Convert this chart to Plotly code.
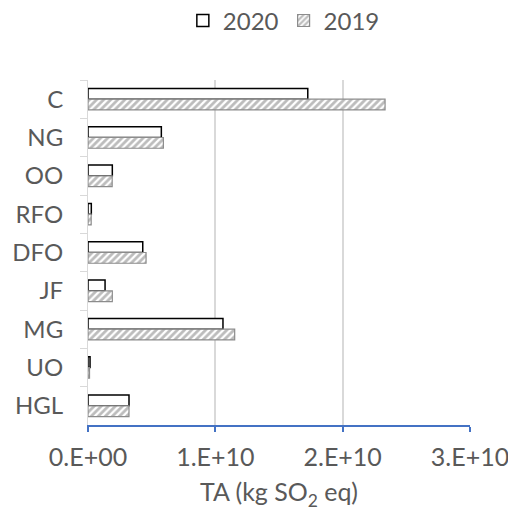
import plotly.graph_objects as go

categories = ["C", "NG", "OO", "RFO", "DFO", "JF", "MG", "UO", "HGL"]
values_2020 = [1.726e10, 0.576e10, 0.191e10, 0.026e10, 0.430e10, 0.134e10, 1.060e10, 0.016e10, 0.322e10]
values_2019 = [2.333e10, 0.592e10, 0.190e10, 0.025e10, 0.456e10, 0.191e10, 1.152e10, 0.012e10, 0.322e10]
x_ticks = [0, 1e10, 2e10, 3e10]
x_tick_labels = ["0.E+00", "1.E+10", "2.E+10", "3.E+10"]

FONT = "Lato"
TXT = "#595959"

fig = go.Figure()
fig.add_trace(go.Bar(
    y=categories, x=values_2020, name="2020", orientation="h",
    marker=dict(color="white", line=dict(color="black", width=1.5)),
))
fig.add_trace(go.Bar(
    y=categories, x=values_2019, name="2019", orientation="h",
    marker=dict(color="white", line=dict(color="#8c8c8c", width=1.2),
                pattern=dict(shape="/", fgcolor="#7a7a7a", bgcolor="white",
                             size=5, solidity=0.55)),
))

fig.update_layout(
    width=508, height=515,
    margin=dict(l=80, r=46, t=72, b=98),
    paper_bgcolor="white", plot_bgcolor="white",
    barmode="group", bargap=0.44, bargroupgap=0.0,
    font=dict(family=FONT, color=TXT, size=24),
    legend=dict(orientation="h", x=0.543, xanchor="center", y=0.975, yanchor="middle",
                xref="container", yref="container", font=dict(size=24, color=TXT),
                traceorder="normal", itemwidth=30),
    xaxis=dict(
        range=[0, 3e10], tickvals=x_ticks, ticktext=x_tick_labels,
        showgrid=True, gridcolor="#d9d9d9", gridwidth=1.5,
        showline=True, linecolor="#4472c4", linewidth=1.5,
        ticks="outside", tickcolor="#4472c4", ticklen=5, tickwidth=1.5,
        zeroline=False, tickfont=dict(size=25, color=TXT),
        ticklabelstandoff=4, automargin=False,
        title=dict(text="TA (kg SO<sub>2</sub> eq)", font=dict(size=25, color=TXT), standoff=14),
    ),
    yaxis=dict(
        autorange="reversed", type="category",
        showgrid=False, showline=True, linecolor="#d9d9d9", linewidth=1,
        ticks="outside", tickson="boundaries", tickcolor="#d9d9d9", ticklen=7,
        tickfont=dict(size=24, color=TXT), ticklabelstandoff=19, automargin=False,
    ),
)

fig.write_html("out.html")
